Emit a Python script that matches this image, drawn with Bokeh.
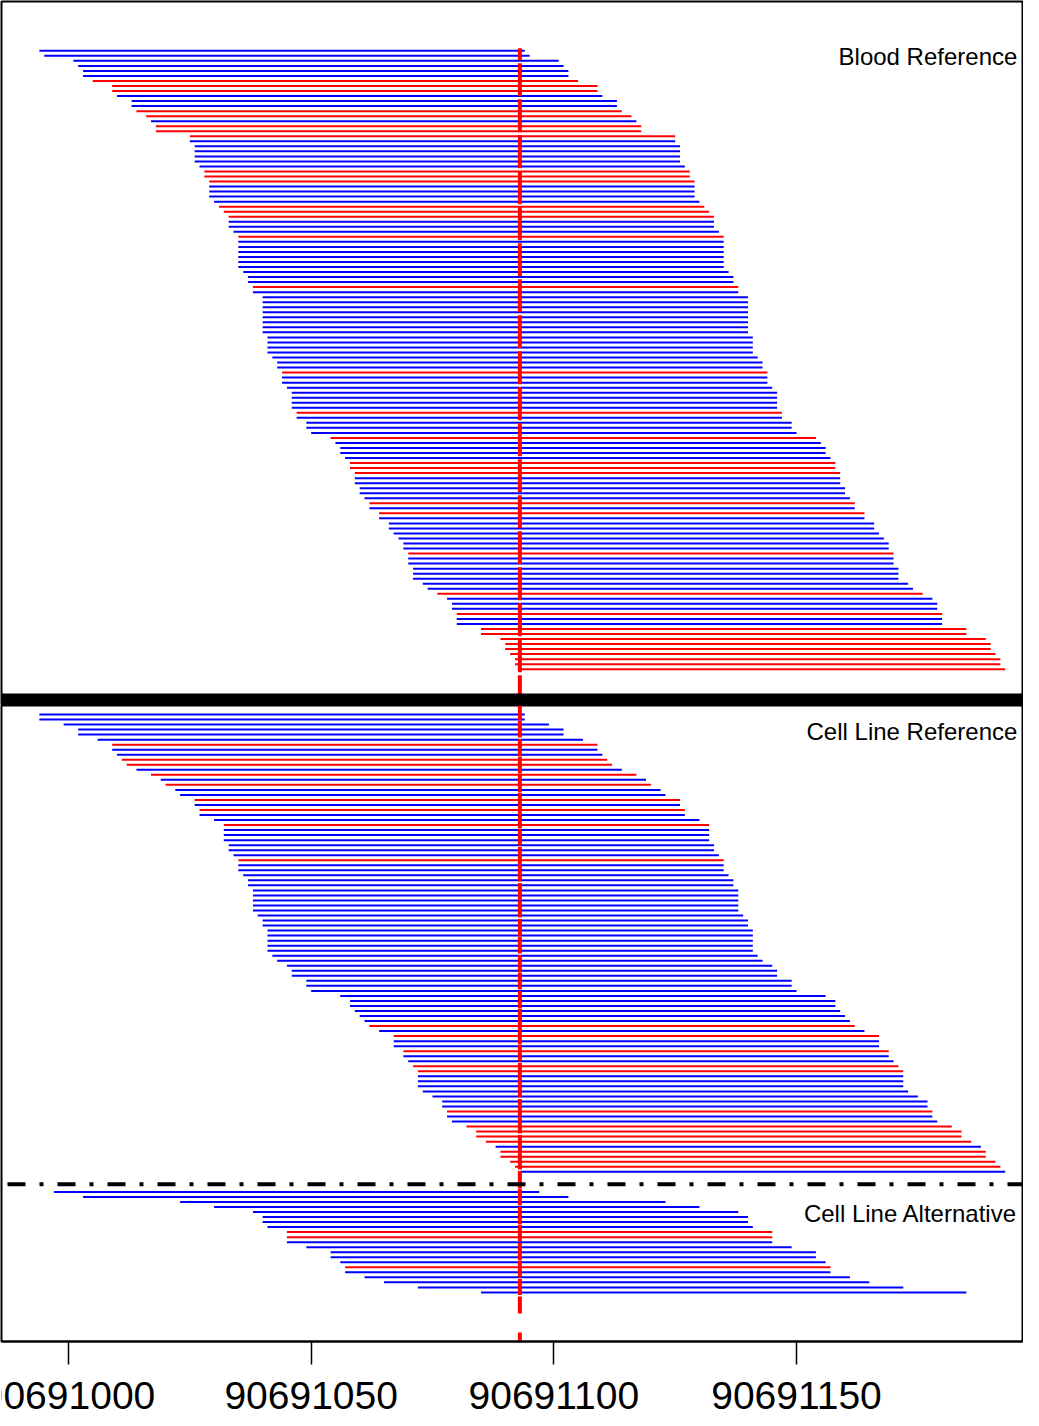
from bokeh.plotting import figure
from bokeh.models import Range1d, Label, Span, FixedTicker, ColumnDataSource
from bokeh.layouts import column
from bokeh.embed import file_html
from bokeh.resources import INLINE
from bokeh.core.properties import value

# ---------------- data ----------------
REGION_ORIGIN = 90691000      # read starts below are offsets (bp) from this position
READ_LENGTH = 100
SNP_POSITION = 90691093

TICKS = [90691000, 90691050, 90691100, 90691150]
TICK_LABELS = ["90691000", "90691050", "90691100", "90691150"]

PANEL_TITLES = ["Blood Reference", "Cell Line Reference", "Cell Line Alternative"]

# Blood, reference allele (top to bottom)
blood_ref_start = [
    -6, -5, 1, 2, 3, 3, 5, 9, 9, 10,
    13, 13, 14, 16, 17, 18, 18, 25, 25, 26,
    26, 26, 26, 27, 28, 28, 29, 29, 29, 29,
    30, 31, 32, 33, 33, 33, 34, 35, 35, 35,
    35, 35, 35, 35, 36, 37, 37, 38, 38, 40,
    40, 40, 40, 40, 40, 40, 40, 41, 41, 41,
    41, 42, 43, 43, 44, 44, 44, 45, 46, 46,
    46, 46, 47, 47, 49, 49, 50, 54, 55, 56,
    56, 57, 58, 58, 59, 59, 59, 60, 60, 61,
    62, 62, 64, 64, 66, 66, 67, 68, 69, 69,
    70, 70, 70, 71, 71, 71, 73, 74, 76, 78,
    79, 79, 80, 80, 80, 85, 85, 89, 90, 90,
    91, 92, 92, 93,
]
blood_ref_strand = list(
    "BBBBBBRRRB" "BBRRBRRRBB" "BBBBRRRBBB" "BRRRBBBRBB"
    "BBBBBBBRBB" "BBBBBBBBBB" "BBBBRBBBBB" "BBRBBBBRBB"
    "BBRRRBBBBB" "RBRBBBBBBB" "RBBBBBBBRB" "BBRBBRRRRR"
    "RRRR"
)

# Cell line, reference allele
cell_ref_start = [
    -6, -6, -1, 2, 2, 6, 9, 9, 10, 11,
    12, 14, 17, 19, 20, 22, 23, 26, 26, 27,
    27, 30, 32, 32, 32, 32, 33, 33, 34, 35,
    35, 35, 36, 37, 37, 38, 38, 38, 38, 38,
    39, 40, 40, 41, 41, 41, 41, 41, 42, 43,
    45, 46, 46, 49, 49, 50, 56, 58, 58, 59,
    60, 61, 62, 64, 67, 67, 67, 69, 69, 70,
    71, 72, 72, 72, 72, 73, 75, 77, 77, 78,
    78, 79, 82, 84, 84, 86, 88, 89, 89, 91,
    92, 93,
]
cell_ref_strand = list(
    "BBBBBBRBBR" "RBRBRBBRBR" "BBRBBBBBBR" "BBBBBBBBBB"
    "BBBBBBBBBB" "BBBBBBBBBB" "BBRBRBBRBB" "RRBBBBBBBR"
    "BBRRRRBRRR" "RB"
)

# Cell line, alternative allele
cell_alt_start = [-3, 3, 23, 30, 38, 40, 40, 41, 45, 45, 45,
                  49, 54, 54, 56, 57, 57, 61, 65, 72, 85]
cell_alt_strand = list("BBBBBBBBRRBBBBBRBBBBB")

STRAND_COLORS = {"B": "#0000FF", "R": "#FF0000"}
ALT_ROW_GAP = 3

# ---------------- layout constants ----------------
W = 1023
X_START, X_END = 90690986.195, 90691196.566
FONT = "Liberation Sans"
TITLE_X = 90691195.5


def reads_source(offsets, strands, first_row):
    starts = [REGION_ORIGIN + o for o in offsets]
    return ColumnDataSource(dict(
        x0=starts,
        x1=[s + READ_LENGTH for s in starts],
        y=[first_row + i for i in range(len(starts))],
        color=[STRAND_COLORS[s] for s in strands],
    ))


def base_fig(height, y_start, y_end, outline=True, **kw):
    p = figure(width=W, height=height, output_backend="svg", toolbar_location=None,
               x_range=Range1d(X_START, X_END), y_range=Range1d(y_start, y_end),
               y_axis_location=None, min_border=0, min_border_left=1,
               min_border_right=1, **kw)
    p.grid.visible = False
    if outline:
        p.outline_line_color = "black"
        p.outline_line_width = 2
        p.outline_line_alpha = 1
    else:
        p.outline_line_color = None
    p.background_fill_color = "white"
    p.border_fill_color = "white"
    return p


def title(p, y, text):
    p.add_layout(Label(x=TITLE_X, y=y, text=text, text_align="right",
                       text_baseline="alphabetic", text_font=FONT,
                       text_font_size="24px", text_color="black"))


# ---------------- top panel ----------------
p1 = base_fig(705, 131.22, -8.806, x_axis_location=None, min_border_top=1, min_border_bottom=0)
p1.segment(x0="x0", y0="y", x1="x1", y1="y", line_color="color", line_width=2,
           source=reads_source(blood_ref_start, blood_ref_strand, 1))
p1.segment(x0=[SNP_POSITION], y0=[0.5], x1=[SNP_POSITION], y1=[131.22],
           line_color="#FF0000", line_width=4, line_dash="33 3", line_dash_offset=21)
title(p1, 2.07, PANEL_TITLES[0])
p1.add_layout(Span(location=130.03, dimension="width", line_color="black", line_width=12))

# ---------------- bottom panel ----------------
n_ref = len(cell_ref_start)
p2 = base_fig(666, 125.77, -0.791, x_axis_location="below", min_border_top=0,
              min_border_bottom=30)
p2.segment(x0="x0", y0="y", x1="x1", y1="y", line_color="color", line_width=2,
           source=reads_source(cell_ref_start, cell_ref_strand, 1))
alt_first = n_ref + ALT_ROW_GAP + 1
p2.segment(x0="x0", y0="y", x1="x1", y1="y", line_color="color", line_width=2,
           source=reads_source(cell_alt_start, cell_alt_strand, alt_first))
p2.add_layout(Span(location=n_ref + 2.5, dimension="width", line_color="black",
                   line_width=4, line_dash="18 14 4 14", line_dash_offset=44))
alt_last = alt_first + len(cell_alt_start) - 1
p2.segment(x0=[SNP_POSITION], y0=[125.77], x1=[SNP_POSITION], y1=[-0.791],
           line_color="#FF0000", line_width=4, line_dash="17 19", line_dash_offset=8)
p2.segment(x0=[SNP_POSITION], y0=[alt_last + 0.5], x1=[SNP_POSITION], y1=[-0.791],
           line_color="#FF0000", line_width=4, line_dash="17 19", line_dash_offset=1)
title(p2, 4.32, PANEL_TITLES[1])
title(p2, 100.36, PANEL_TITLES[2])

ax = p2.xaxis[0]
ax.ticker = FixedTicker(ticks=TICKS)
ax.axis_line_color = "black"
ax.axis_line_width = 2
ax.major_tick_line_color = "black"
ax.major_tick_line_width = 1.5
ax.major_tick_out = 23
ax.major_tick_in = 0
ax.minor_tick_line_color = None
# the tick labels are drawn in the strip below, lower than the axis layout allows
ax.major_label_overrides = {t: "" for t in TICKS}
ax.major_label_standoff = 0
ax.major_label_text_font_size = "1px"

# ---------------- tick label strip ----------------
p3 = base_fig(39, 39, 0, outline=False, x_axis_location=None, min_border_top=0,
              min_border_bottom=0)
p3.text(x=TICKS, y=[24] * len(TICKS), text=TICK_LABELS, text_align="center",
        text_baseline="alphabetic", text_font=value(FONT), text_font_size=value("39px"),
        text_color="black")

layout = column(p1, p2, p3, spacing=0)
open("out.html", "w").write(file_html(layout, INLINE))
